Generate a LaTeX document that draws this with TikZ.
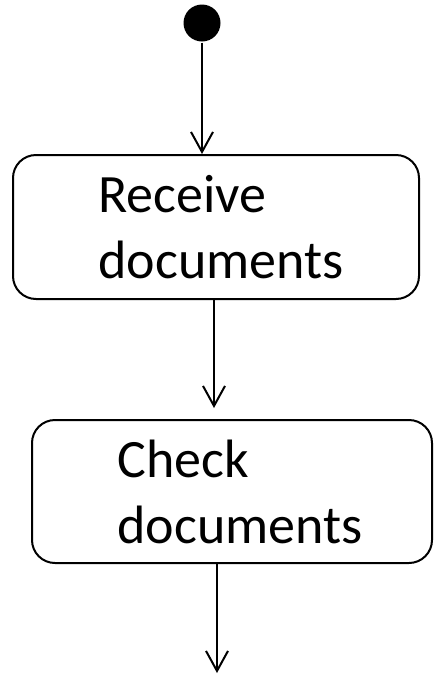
\documentclass[tikz,border=0pt]{standalone}
\usepackage{fontspec}
\setmainfont{Carlito}
\usetikzlibrary{arrows.meta}

\begin{document}
\begin{tikzpicture}[x=1pt, y=-1pt, line width=2pt,
    activity/.style={draw, rectangle, rounded corners=23pt, align=left,
      font=\fontsize{54}{66}\selectfont, inner sep=0pt},
    flow/.style={-{Straight Barb[length=20pt,width=22pt,line width=2pt]}}]
  \useasboundingbox (0,0) rectangle (434,675);
  \node (start) [circle, fill, minimum size=37pt, inner sep=0pt] at (202,23) {};
  \node (receive) [activity, minimum width=406pt, minimum height=144pt] at (216,227)
    {\hspace*{10pt}Receive\\\hspace*{10pt}documents};
  \node (check) [activity, minimum width=400pt, minimum height=143pt] at (232,491.5)
    {\hspace*{16pt}Check\\\hspace*{16pt}documents};
  \coordinate (end) at (217,673);

  \draw[flow] (start) -- (start |- receive.north);
  \draw[flow, shorten >=11pt] ([xshift=-2pt]receive.south) -- ([xshift=-2pt]receive.south |- check.north);
  \draw[flow] (check.south -| end) -- (end);
\end{tikzpicture}
\end{document}
